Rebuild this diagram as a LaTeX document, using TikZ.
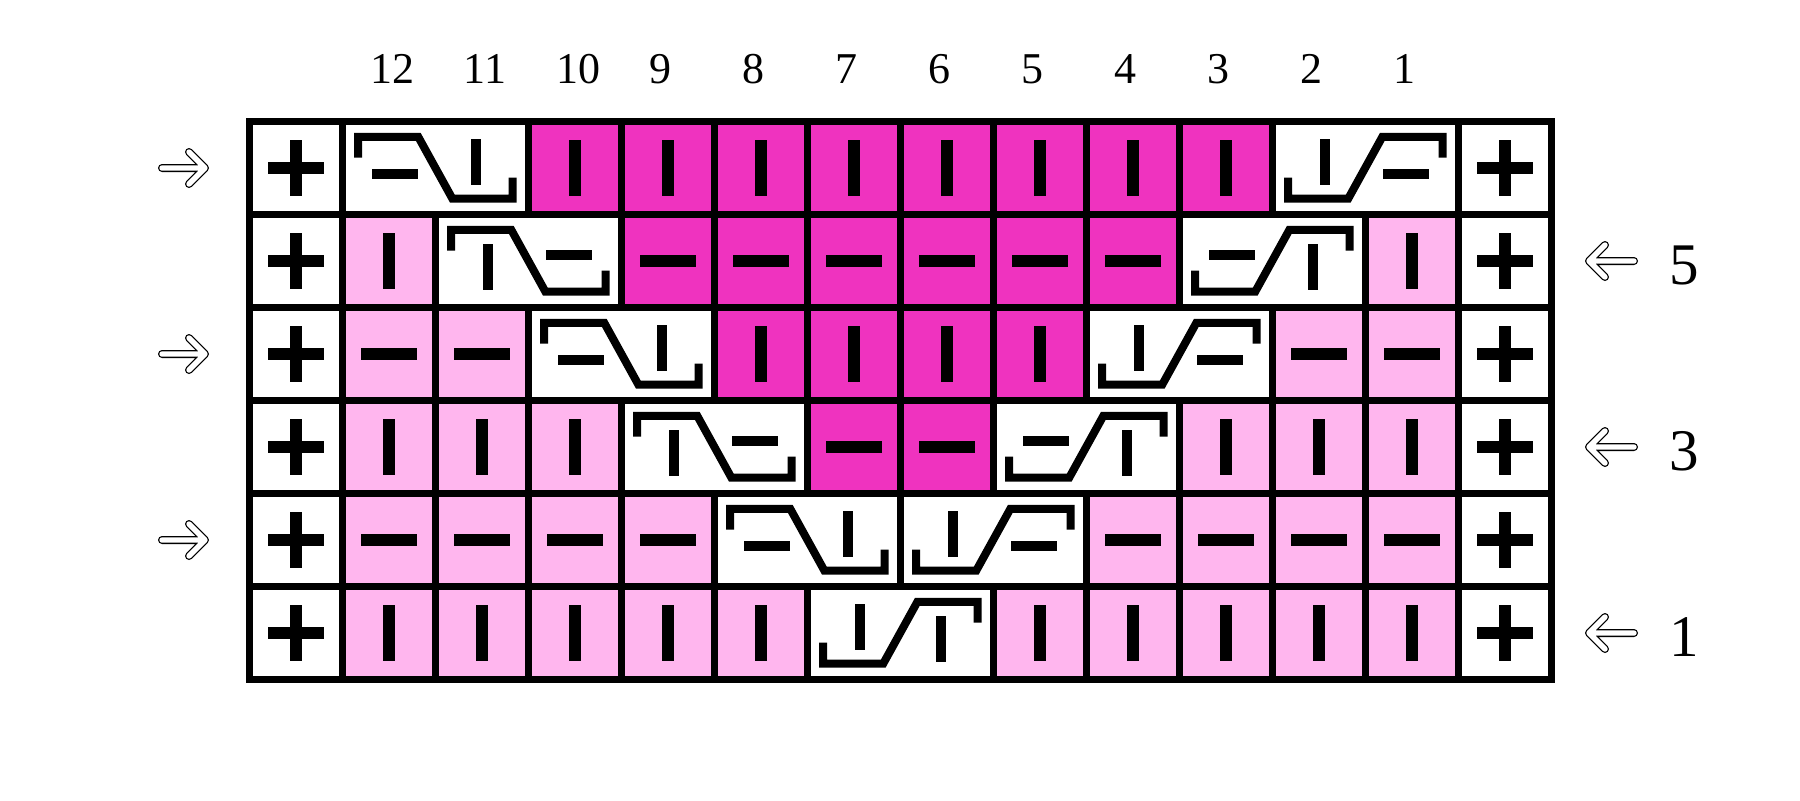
\documentclass[tikz,border=0pt]{standalone}
\usepackage{fontspec}
\setmainfont{Liberation Serif}
\definecolor{mag}{RGB}{239,51,191}
\definecolor{lpink}{RGB}{255,182,238}
\tikzset{
  gridline/.style={line width=3.35pt, draw=black, line join=miter},
  cablepath/.style={line width=4pt, line join=miter, line cap=butt},
  colnum/.style={anchor=base west, inner sep=0pt, font=\fontsize{22}{26}\selectfont},
  rownum/.style={anchor=base west, inner sep=0pt, font=\fontsize{29.5}{34}\selectfont},
  arrowout/.style={line width=4pt, line cap=round, line join=round, black},
  arrowin/.style={line width=2.7pt, line cap=round, line join=round, white},
}
% plain cell symbols (column, row)
\newcommand\stK[2]{\fill ({93*#1+46.5-5.85},{93*#2+46.5-28}) rectangle ++(11.7,56);}
\newcommand\stP[2]{\fill ({93*#1+46.5-28},{93*#2+46.5-5.85}) rectangle ++(56,11.7);}
% cable symbols (centre x, centre y, relative)
\newcommand\bigK[2]{\fill ({#1-5},{#2-23}) rectangle ++(10,46);}
\newcommand\bigP[2]{\fill ({#1-23},{#2-5}) rectangle ++(46,10);}
% region: column, row, width in cells, colour
\newcommand\region[4]{\filldraw[gridline,fill=#4] ({93*#1},{93*#2}) rectangle ++({93*#3},93);}
\newcommand\eplus[2]{\region{#1}{#2}{1}{white}\stK{#1}{#2}\stP{#1}{#2}}
\newcommand\ck[3]{\region{#1}{#2}{1}{#3}\stK{#1}{#2}}
\newcommand\cp[3]{\region{#1}{#2}{1}{#3}\stP{#1}{#2}}
% cables: column, row, left symbol (K/P), right symbol (K/P)
\newcommand\cabL[4]{\region{#1}{#2}{2}{white}%
  \begin{scope}[shift={({93*#1},{93*#2})}]
    \draw[cablepath] (15.7,36.2) -- (15.7,15.4) -- (76,15.4) -- (110,77) -- (170.3,77) -- (170.3,56.2);
    \csname big#3\endcsname{52.6}{52}
    \csname big#4\endcsname{133.6}{40.5}
  \end{scope}}
\newcommand\cabR[4]{\region{#1}{#2}{2}{white}%
  \begin{scope}[shift={({93*#1},{93*#2})}]
    \draw[cablepath] (15.7,56.2) -- (15.7,77) -- (76,77) -- (110,15.4) -- (170.3,15.4) -- (170.3,36.2);
    \csname big#3\endcsname{52.6}{40.4}
    \csname big#4\endcsname{133.6}{52.2}
  \end{scope}}
\newcommand\rarrow[1]{%
  \draw[arrowout] (162,#1) -- (205,#1) (189,{#1-16}) -- (205,#1) -- (189,{#1+16});
  \draw[arrowin] (162,#1) -- (205,#1) (189,{#1-16}) -- (205,#1) -- (189,{#1+16});}
\newcommand\larrow[1]{%
  \draw[arrowout] (1634,#1) -- (1589,#1) (1605,{#1-16}) -- (1589,#1) -- (1605,{#1+16});
  \draw[arrowin] (1634,#1) -- (1589,#1) (1605,{#1-16}) -- (1589,#1) -- (1605,{#1+16});}
\begin{document}
\begin{tikzpicture}[x=0.5pt,y=-0.5pt]
\useasboundingbox (0,0) rectangle (1800,800);
\fill[white] (0,0) rectangle (1800,800);
\begin{scope}[shift={(249.3,121.5)}]
  % row 0 (top)
  \eplus{0}{0}
  \cabL{1}{0}{P}{K}
  \foreach \i in {3,...,10} {\ck{\i}{0}{mag}}
  \cabR{11}{0}{K}{P}
  \eplus{13}{0}
  % row 1
  \eplus{0}{1}
  \ck{1}{1}{lpink}
  \cabL{2}{1}{K}{P}
  \foreach \i in {4,...,9} {\cp{\i}{1}{mag}}
  \cabR{10}{1}{P}{K}
  \ck{12}{1}{lpink}
  \eplus{13}{1}
  % row 2
  \eplus{0}{2}
  \foreach \i in {1,2} {\cp{\i}{2}{lpink}}
  \cabL{3}{2}{P}{K}
  \foreach \i in {5,...,8} {\ck{\i}{2}{mag}}
  \cabR{9}{2}{K}{P}
  \foreach \i in {11,12} {\cp{\i}{2}{lpink}}
  \eplus{13}{2}
  % row 3
  \eplus{0}{3}
  \foreach \i in {1,2,3} {\ck{\i}{3}{lpink}}
  \cabL{4}{3}{K}{P}
  \foreach \i in {6,7} {\cp{\i}{3}{mag}}
  \cabR{8}{3}{P}{K}
  \foreach \i in {10,11,12} {\ck{\i}{3}{lpink}}
  \eplus{13}{3}
  % row 4
  \eplus{0}{4}
  \foreach \i in {1,...,4} {\cp{\i}{4}{lpink}}
  \cabL{5}{4}{P}{K}
  \cabR{7}{4}{K}{P}
  \foreach \i in {9,...,12} {\cp{\i}{4}{lpink}}
  \eplus{13}{4}
  % row 5 (bottom)
  \eplus{0}{5}
  \foreach \i in {1,...,5} {\ck{\i}{5}{lpink}}
  \cabR{6}{5}{K}{K}
  \foreach \i in {8,...,12} {\ck{\i}{5}{lpink}}
  \eplus{13}{5}
\end{scope}
% column numbers
\foreach \i in {1,...,12} {
  \node[colnum] (col\i) at ({249.3+93*\i+28},83) {\the\numexpr13-\i\relax};
}
% row numbers
\node[rownum] (row5) at (1669,284.5) {5};
\node[rownum] (row3) at (1669,470.5) {3};
\node[rownum] (row1) at (1669,656.5) {1};
% direction arrows
\rarrow{168}
\rarrow{354}
\rarrow{540}
\larrow{261}
\larrow{447}
\larrow{633}
\end{tikzpicture}
\end{document}
